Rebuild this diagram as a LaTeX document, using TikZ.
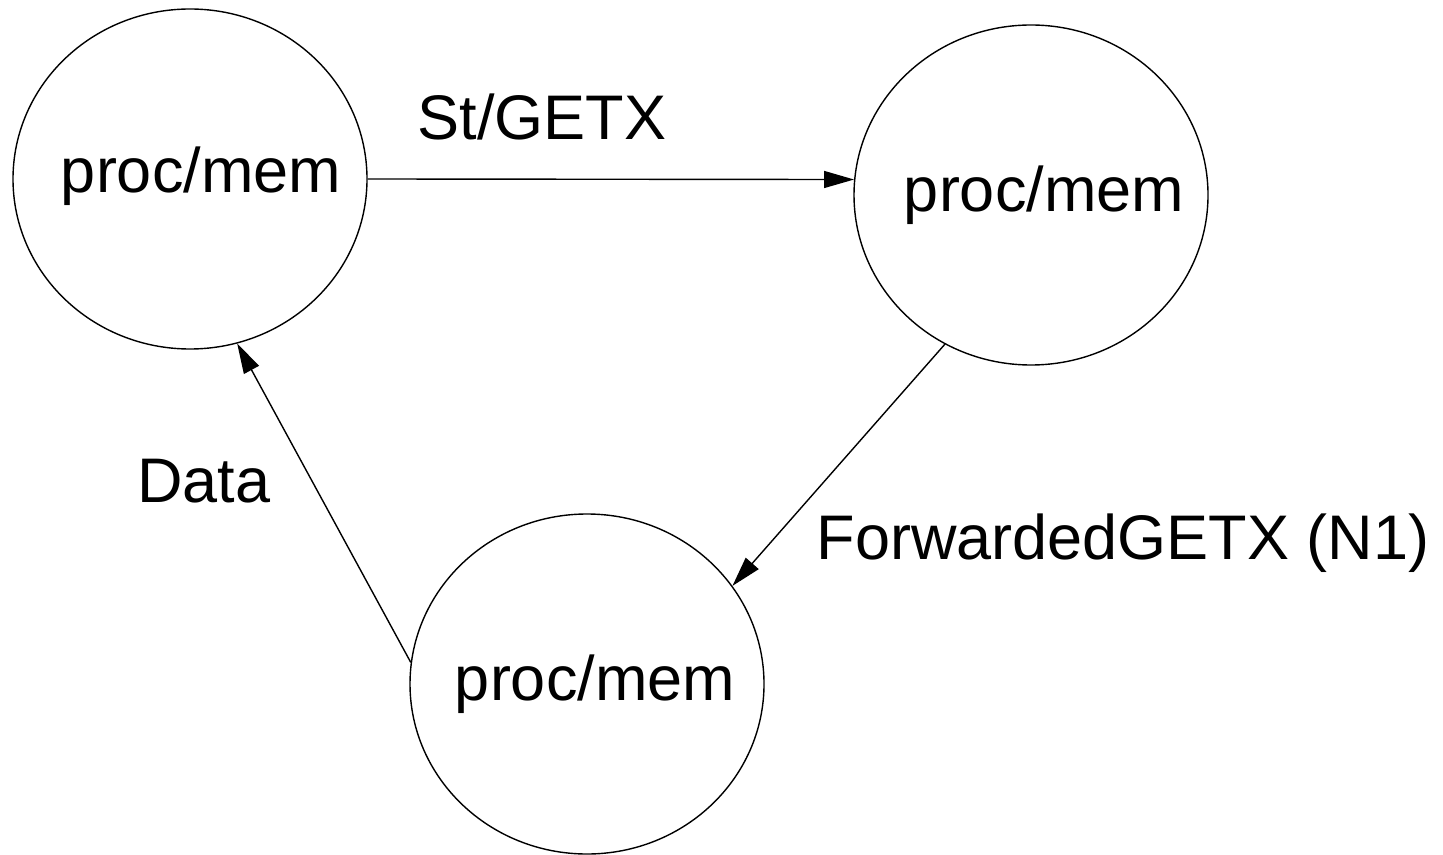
\documentclass[tikz,border=0pt]{standalone}
\usepackage{fontspec}
\setmainfont{Liberation Sans}
\usetikzlibrary{shapes.geometric,arrows.meta}
\begin{document}
\begin{tikzpicture}[x=0.5pt,y=-0.5pt,
  pm/.style={draw,ellipse,line width=0.7pt,minimum width=177pt,minimum height=170pt,inner sep=0pt},
  lbl/.style={font=\fontsize{31.5}{37}\selectfont,anchor=base,inner sep=0pt},
  conn/.style={line width=0.7pt,-{Triangle[length=15pt,width=8.5pt]}}]
\useasboundingbox (0,0) rectangle (1443,855);
\node[pm] (A) at (190,179) {};
\node[pm] (B) at (1031,195) {};
\node[pm] (C) at (587,684) {};
\node[lbl] (tA) at (201,193) {proc/mem};
\node[lbl] (tB) at (1044,212) {proc/mem};
\node[lbl] (tC) at (595,700) {proc/mem};
\draw[conn] (A.0) -- (B.175);
\draw[conn] (B.240) -- (C.34);
\draw[conn] (C.173) -- (A.286);
\node[lbl] (l1) at (542,140) {St/GETX};
\node[lbl] (l2) at (204,502) {Data};
\node[lbl] (l3) at (1123,559) {ForwardedGETX (N1)};
\end{tikzpicture}
\end{document}
